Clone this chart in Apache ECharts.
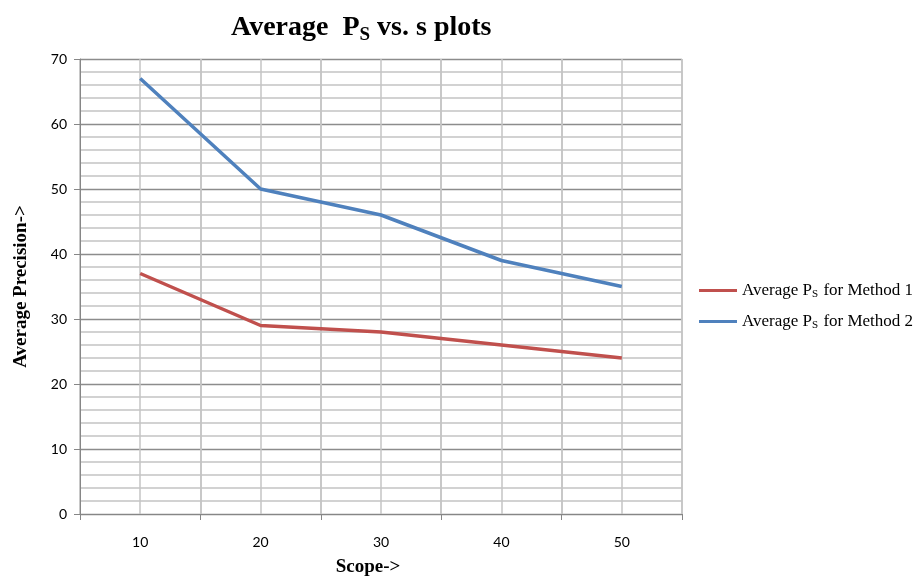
<!DOCTYPE html>
<html>
<head>
<meta charset="utf-8">
<script src="https://cdn.jsdelivr.net/npm/echarts@6/dist/echarts.min.js"></script>
<style>html,body{margin:0;padding:0;background:#fff}#c{width:916px;height:578px}</style>
</head>
<body>
<div id="c"></div>
<script>
const categories = ['10', '20', '30', '40', '50'];
const method1 = [37, 29, 28, 26, 24];
const method2 = [67, 50, 46, 39, 35];
const seriesNames = ['Average PS for Method 1', 'Average PS for Method 2'];
const yTicks = { min: 0, max: 70, interval: 10 };

const chart = echarts.init(document.getElementById('c'), null, { renderer: 'canvas' });
const serif = '"Liberation Serif", "Times New Roman", serif';
const sans = 'Lato, "Open Sans", "Liberation Sans", sans-serif';

chart.setOption({
  animation: false,
  backgroundColor: '#fff',
  title: {
    text: '{a|Average  P}{s|S}{a| vs. s plots}',
    left: 226,
    top: 6,
    textStyle: {
      rich: {
        a: { fontFamily: serif, fontWeight: 'bold', fontSize: 28, color: '#000' },
        s: { fontFamily: serif, fontWeight: 'bold', fontSize: 19, color: '#000', padding: [15, 0, 0, 0] }
      }
    }
  },
  grid: { left: 80, right: 234, top: 59, bottom: 64, containLabel: false, outerBoundsMode: 'none' },
  legend: {
    orient: 'vertical',
    left: 694,
    top: 277,
    itemGap: 13,
    itemWidth: 38,
    itemHeight: 3,
    icon: 'rect',
    data: seriesNames,
    formatter: function (n) {
      const parts = n.split('PS');
      return '{a|' + parts[0] + 'P}{s|S}{a|' + parts[1] + '}';
    },
    textStyle: {
      rich: {
        a: { fontFamily: serif, fontSize: 17, color: '#000' },
        s: { fontFamily: serif, fontSize: 11, color: '#000', padding: [8, 1, 0, 0] }
      }
    }
  },
  xAxis: [
    {
      type: 'category',
      data: categories,
      boundaryGap: true,
      name: 'Scope->',
      nameLocation: 'middle',
      nameGap: 44,
      nameTextStyle: { fontFamily: serif, fontWeight: 'bold', fontSize: 19, color: '#000', padding: [0, 26, 0, 0] },
      axisLine: { show: true, lineStyle: { color: '#868686', width: 1 } },
      axisTick: { show: true, alignWithLabel: false, length: 6, lineStyle: { color: '#868686' } },
      axisLabel: { margin: 21, fontFamily: sans, fontSize: 14, color: '#000' },
      splitLine: { show: true, lineStyle: { color: '#c4c4c4', width: 1.5 } }
    },
    {
      type: 'value',
      min: 0,
      max: 10,
      interval: 1,
      show: true,
      position: 'bottom',
      axisLine: { show: false },
      axisTick: { show: false },
      axisLabel: { show: false },
      splitLine: { show: true, lineStyle: { color: '#c4c4c4', width: 1.5 } }
    }
  ],
  yAxis: {
    type: 'value',
    min: yTicks.min,
    max: yTicks.max,
    interval: yTicks.interval,
    name: 'Average Precision->',
    nameLocation: 'middle',
    nameGap: 49,
    nameRotate: 90,
    nameTextStyle: { fontFamily: serif, fontWeight: 'bold', fontSize: 19, color: '#000' },
    axisLine: { show: true, lineStyle: { color: '#868686', width: 1 } },
    axisTick: { show: true, length: 6, lineStyle: { color: '#868686' } },
    axisLabel: { margin: 13, fontFamily: sans, fontSize: 14, color: '#000' },
    splitLine: { show: true, lineStyle: { color: '#8c8c8c', width: 1.3 } },
    minorTick: { show: false, splitNumber: 5 },
    minorSplitLine: { show: true, lineStyle: { color: '#c4c4c4', width: 1.5 } }
  },
  series: [
    {
      name: seriesNames[0],
      type: 'line',
      data: method1,
      xAxisIndex: 0,
      symbol: 'none',
      lineStyle: { color: '#c0504d', width: 3.5 },
      itemStyle: { color: '#c0504d' },
      z: 5
    },
    {
      name: seriesNames[1],
      type: 'line',
      data: method2,
      xAxisIndex: 0,
      symbol: 'none',
      lineStyle: { color: '#4f81bd', width: 3.5 },
      itemStyle: { color: '#4f81bd' },
      z: 5
    }
  ]
});
</script>
</body>
</html>
